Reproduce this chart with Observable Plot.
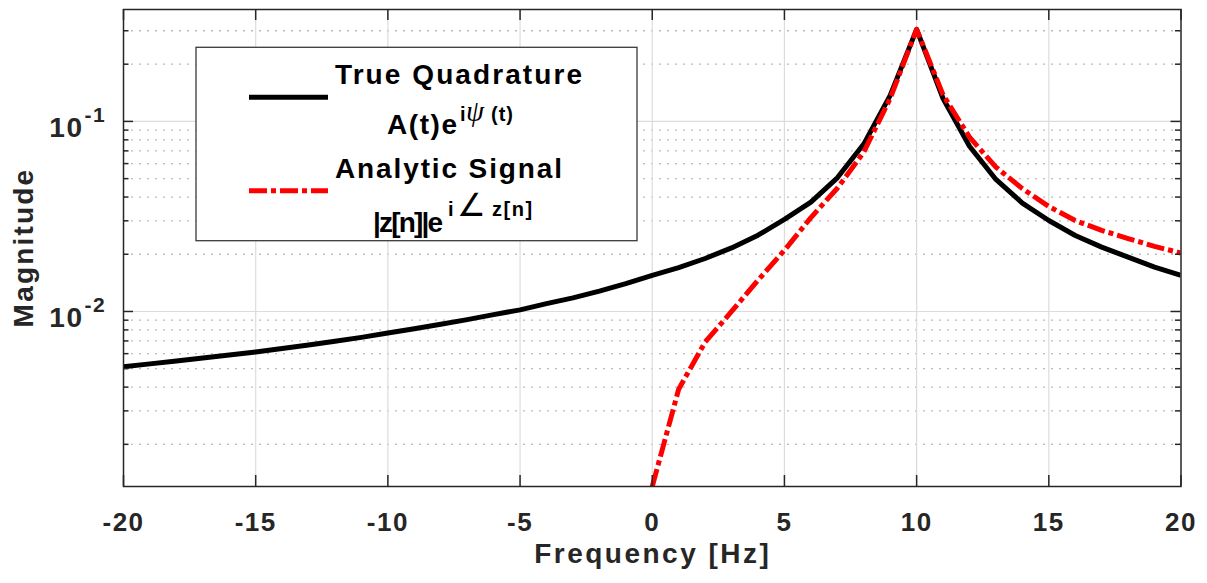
<!DOCTYPE html>
<html>
<head>
<meta charset="utf-8">
<script src="https://cdn.jsdelivr.net/npm/d3@7"></script>
<script src="https://cdn.jsdelivr.net/npm/@observablehq/plot@0.6"></script>
<style>
  body { margin: 0; background: #fff; }
  #chart svg { display: block; }
</style>
</head>
<body>
<div id="chart"></div>
<script>
// ---- data ----
const freqTrue = [-20,-19,-18,-17,-16,-15,-14,-13,-12,-11,-10,-9,-8,-7,-6,-5,-4,-3,-2,-1,0,1,2,3,4,5,6,7,8,9,10,11,12,13,14,15,16,17,18,19,20];
const magTrue = [0.00512,0.00530,0.00549,0.00569,0.00590,0.00612,0.00638,0.00666,0.00697,0.00731,0.00770,0.00811,0.00856,0.00906,0.00963,0.0102,0.0110,0.0118,0.0128,0.0140,0.0155,0.0170,0.0190,0.0216,0.0252,0.0305,0.0376,0.0505,0.0760,0.137,0.305,0.132,0.0740,0.0495,0.0372,0.0301,0.0251,0.0218,0.0193,0.0171,0.0155];
const freqAnalytic = [0,1,2,3,4,5,6,7,8,9,10,11,12,13,14,15,16,17,18,19,20];
const magAnalytic = [0.0012,0.0039,0.0069,0.0100,0.0146,0.0210,0.0312,0.0445,0.069,0.132,0.305,0.138,0.0827,0.0575,0.0443,0.0357,0.0301,0.0267,0.0242,0.0220,0.0203];
const seriesNames = ["True Quadrature", "Analytic Signal"];
const xTicks = [-20,-15,-10,-5,0,5,10,15,20];
const yMajorTicks = [0.01, 0.1];
const yMajorExponents = ["-2", "-1"];
const yMinorTicks = [0.002,0.003,0.004,0.005,0.006,0.007,0.008,0.009,0.02,0.03,0.04,0.05,0.06,0.07,0.08,0.09,0.2,0.3];
const xDomain = [-20, 20];
const yDomain = [0.0012, 0.388];
const xLabel = "Frequency [Hz]";
const yLabel = "Magnitude";

// ---- layout ----
const W = 1207, H = 583, mL = 123, mR = 26.5, mT = 9, mB = 97;
const pw = W - mL - mR, ph = H - mT - mB;
const axisColor = "#262626";
const font = "'Liberation Sans', Arial, Helvetica, sans-serif";

const trueData = freqTrue.map((f, i) => ({f, m: magTrue[i], s: seriesNames[0]}));
const analyticData = freqAnalytic.map((f, i) => ({f, m: magAnalytic[i], s: seriesNames[1]}));

const svg = Plot.plot({
  width: W, height: H,
  marginLeft: mL, marginRight: mR, marginTop: mT, marginBottom: mB,
  x: {domain: xDomain, axis: null},
  y: {type: "log", domain: yDomain, axis: null},
  style: {fontFamily: font, background: "white", overflow: "visible"},
  marks: [
    // grid
    Plot.ruleY(yMinorTicks, {y: d => d, stroke: "#bcbcbc", strokeWidth: 1.3, strokeDasharray: "2,6"}),
    Plot.ruleY(yMajorTicks, {y: d => d, stroke: "#dcdcdc", strokeWidth: 1.2}),
    Plot.ruleX(xTicks.slice(1, -1), {x: d => d, stroke: "#dcdcdc", strokeWidth: 1.2}),
    // data
    Plot.line(trueData, {x: "f", y: "m", stroke: "#000000", strokeWidth: 5, strokeLinecap: "butt", strokeLinejoin: "round", clip: true}),
    Plot.line(analyticData, {x: "f", y: "m", stroke: "#ff0000", strokeWidth: 5, strokeLinecap: "butt", strokeLinejoin: "round", strokeDasharray: "18,4,5,4", clip: true}),
    // ticks (inward, box)
    Plot.tickX(xTicks, {x: d => d, insetTop: ph - 11, stroke: axisColor, strokeWidth: 1.5}),
    Plot.tickX(xTicks, {x: d => d, insetBottom: ph - 11, stroke: axisColor, strokeWidth: 1.5}),
    Plot.tickY(yMajorTicks, {y: d => d, insetRight: pw - 10, stroke: axisColor, strokeWidth: 1.5}),
    Plot.tickY(yMajorTicks, {y: d => d, insetLeft: pw - 10, stroke: axisColor, strokeWidth: 1.5}),
    Plot.tickY(yMinorTicks, {y: d => d, insetRight: pw - 5.5, stroke: axisColor, strokeWidth: 1.5}),
    Plot.tickY(yMinorTicks, {y: d => d, insetLeft: pw - 5.5, stroke: axisColor, strokeWidth: 1.5}),
    Plot.frame({stroke: axisColor, strokeWidth: 1.5}),
    // tick labels
    Plot.text(xTicks, {x: d => d, frameAnchor: "bottom", text: d => String(d), lineAnchor: "bottom", dy: 44, fontSize: 26, fontWeight: "bold", fill: axisColor, textAnchor: "middle"}),
    Plot.text(yMajorTicks, {y: d => d, frameAnchor: "left", text: () => "10", lineAnchor: "bottom", textAnchor: "end", dx: -40, dy: 15.7, fontSize: 28, fontWeight: "bold", fill: axisColor}),
    Plot.text(yMajorTicks, {y: d => d, frameAnchor: "left", text: (d, i) => yMajorExponents[i], lineAnchor: "bottom", textAnchor: "start", dx: -39, dy: 0.7, fontSize: 21, fontWeight: "bold", fill: axisColor})
  ]
});

const root = d3.select(svg);
root.selectAll('g[aria-label="text"] text').attr("letter-spacing", "1.5");

// axis titles
root.append("text")
  .attr("x", (mL + W - mR) / 2 + 1).attr("y", 563)
  .attr("text-anchor", "middle")
  .attr("font-family", font).attr("font-size", 28).attr("font-weight", "bold")
  .attr("fill", axisColor).attr("letter-spacing", "2.5")
  .text(xLabel);

root.append("text")
  .attr("transform", `translate(33,${(mT + H - mB) / 2}) rotate(-90)`)
  .attr("text-anchor", "middle")
  .attr("font-family", font).attr("font-size", 28).attr("font-weight", "bold")
  .attr("fill", axisColor).attr("letter-spacing", "2.2")
  .text(yLabel);

// legend
const lg = root.append("g").attr("font-family", font).attr("font-weight", "bold")
  .attr("fill", "#000").attr("text-anchor", "start");
lg.append("rect").attr("x", 196).attr("y", 47.3).attr("width", 441).attr("height", 193.4)
  .attr("fill", "white").attr("stroke", "#3a3a3a").attr("stroke-width", 1.3);
lg.append("line").attr("x1", 249).attr("x2", 328).attr("y1", 97.3).attr("y2", 97.3)
  .attr("stroke", "#000").attr("stroke-width", 5);
lg.append("line").attr("x1", 249).attr("x2", 328).attr("y1", 190.7).attr("y2", 190.7)
  .attr("stroke", "#ff0000").attr("stroke-width", 5).attr("stroke-dasharray", "18,4,5,4");

function ltext(x, y, size, str, len) {
  const t = lg.append("text").attr("x", x).attr("y", y).attr("font-size", size).text(str);
  if (len) t.attr("textLength", len).attr("lengthAdjust", "spacing");
  return t;
}
ltext(335, 84.3, 28, seriesNames[0], 247);
ltext(387, 134.3, 28, "A(t)e", 70);
const s1 = lg.append("text").attr("y", 120.5).attr("font-size", 20);
s1.append("tspan").attr("x", 460).text("i");
s1.append("tspan").attr("x", 466).attr("font-family", "'Liberation Serif', 'DejaVu Serif', serif")
  .attr("font-style", "italic").attr("font-weight", "normal").attr("font-size", 29).text("ψ");
s1.append("tspan").attr("x", 491).attr("letter-spacing", "1").text("(t)");
ltext(335, 177.7, 28, seriesNames[1], 227);
ltext(373, 232.3, 28, "|z[n]|e", 70);
const s2 = lg.append("text").attr("y", 216).attr("font-size", 20);
s2.append("tspan").attr("x", 448).text("i");
s2.append("tspan").attr("x", 457).attr("font-weight", "normal")
  .attr("font-family", "'DejaVu Sans', sans-serif").attr("font-size", 32).text("∠");
s2.append("tspan").attr("x", 492).attr("letter-spacing", "1.5").text("z[n]");

document.getElementById("chart").appendChild(svg);
</script>
</body>
</html>
